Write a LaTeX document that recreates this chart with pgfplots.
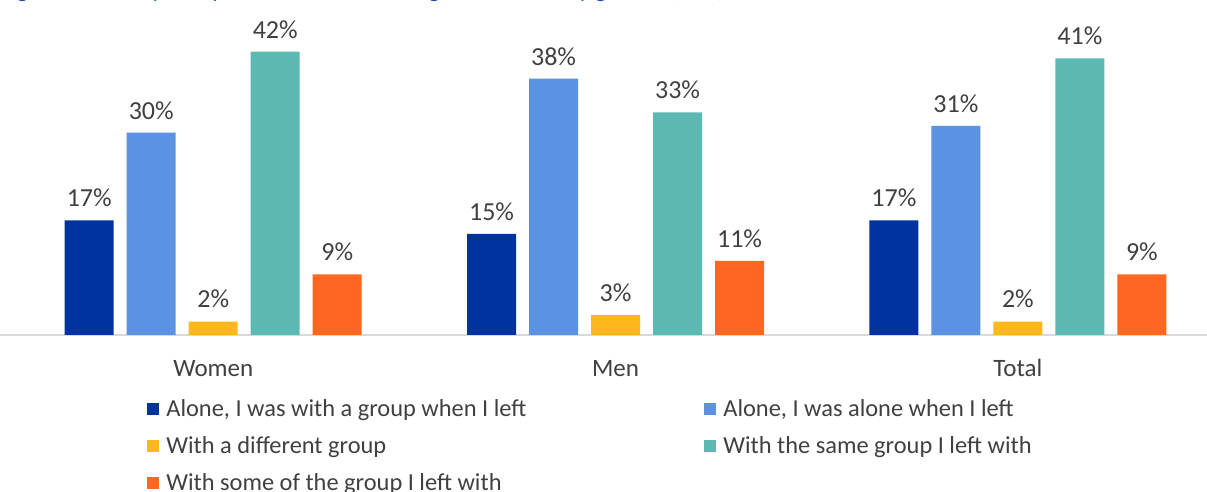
\documentclass[border=0pt]{standalone}
\usepackage{fontspec}
\setmainfont{Carlito}
\usepackage{pgfplots}
\pgfplotsset{compat=1.18}
\definecolor{cDark}{HTML}{0033A0}
\definecolor{cLight}{HTML}{5B93E2}
\definecolor{cYellow}{HTML}{FFB81C}
\definecolor{cTeal}{HTML}{5CB8B2}
\definecolor{cOrange}{HTML}{FF6720}
\definecolor{txt}{HTML}{404040}
\definecolor{ttl}{HTML}{1F4FA8}
\begin{document}
\begin{tikzpicture}
\useasboundingbox (0,-78.5pt) rectangle (603.5pt,167.5pt);
\clip (0,-78.5pt) rectangle (603.5pt,167.5pt);
% title is cut off at the top, as in the source
\node[anchor=base west, inner sep=0pt, text=ttl, font=\fontsize{12}{14}\selectfont]
  at (0,168.5pt) {Figure 12: Group composition when reaching destination, by gender (\%, n)};
\begin{axis}[
  at={(0,0)}, anchor=south west,
  scale only axis, width=603.5pt, height=158.5pt,
  ybar=6.5pt, bar width=24.5pt,
  xmin=-0.53, xmax=2.47, ymin=0, ymax=47,
  axis y line=none, axis x line*=bottom,
  x axis line style={draw=black!15, line width=1pt, -},
  xtick=data, xticklabels={Women, Men, Total},
  major tick length=0pt,
  xticklabel style={anchor=base, yshift=-21pt, text=txt, font=\fontsize{12.5}{14}\selectfont},
  nodes near coords={\pgfmathprintnumber[assume math mode=true]{\pgfplotspointmeta}\%},
  every node near coord/.append style={anchor=base, yshift=6.8pt, text=txt, font=\fontsize{13}{15}\selectfont},
  legend columns=2, legend cell align=left,
  legend image code/.code={\fill[#1] (0pt,-3pt) rectangle (6pt,3pt);},
  legend style={draw=none, fill=none, at={(axis description cs:0.1168,-0.1625)}, anchor=north west,
    font=\fontsize{12.2}{14}\selectfont, text=txt,
    nodes={inner sep=0pt, minimum height=18.5pt},
    /tikz/every odd column/.append style={column sep=3.5pt}},
]
\addplot[fill=cDark, draw=none] coordinates {(0,17) (1,15) (2,17)};
\addlegendentry{\makebox[269pt][l]{Alone, I was with a group when I left}}
\addplot[fill=cLight, draw=none] coordinates {(0,30) (1,38) (2,31)};
\addlegendentry{Alone, I was alone when I left}
\addplot[fill=cYellow, draw=none] coordinates {(0,2) (1,3) (2,2)};
\addlegendentry{\makebox[269pt][l]{With a different group}}
\addplot[fill=cTeal, draw=none] coordinates {(0,42) (1,33) (2,41)};
\addlegendentry{With the same group I left with}
\addplot[fill=cOrange, draw=none] coordinates {(0,9) (1,11) (2,9)};
\addlegendentry{\makebox[269pt][l]{With some of the group I left with}}
\end{axis}
\end{tikzpicture}
\end{document}
